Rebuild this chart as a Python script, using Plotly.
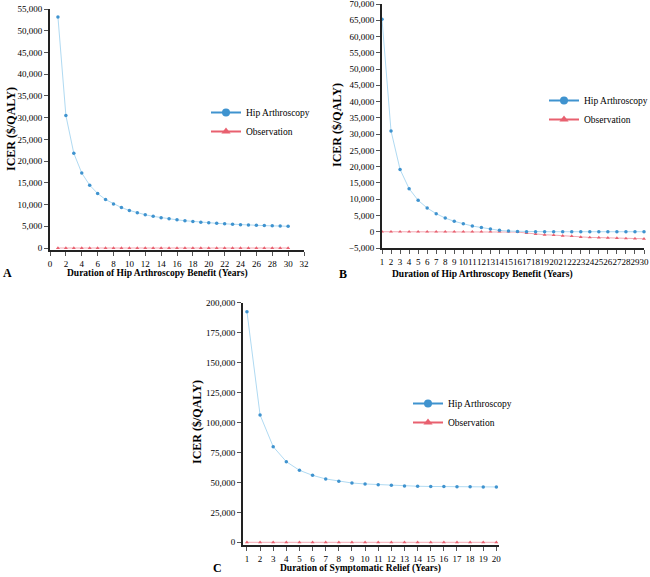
# ICER vs duration of benefit, three panels (A, B, C) with hip arthroscopy vs observation

import plotly.graph_objects as go

# Panel A: duration of hip arthroscopy benefit, 1-30 years
years_a = list(range(1, 31))
hip_a = [53150, 30500, 21800, 17250, 14450, 12550, 11150, 10150, 9300, 8650,
         8100, 7650, 7280, 6980, 6720, 6480, 6280, 6100, 5950, 5800,
         5680, 5560, 5450, 5360, 5280, 5210, 5150, 5100, 5050, 5000]
obs_a = [0] * 30

# Panel B: duration of hip arthroscopy benefit, 1-30 years
years_b = list(range(1, 31))
hip_b = [65300, 31000, 19150, 13250, 9650, 7300, 5550, 4200, 3200, 2450,
         1750, 1300, 820, 420, 200, 100, 20, 0, 0, 0,
         0, 0, 0, 0, 0, 0, 0, 0, 0, 0]
obs_b = [0, 0, 0, 0, 0, 0, 0, 0, 0, 0,
         0, 0, 0, 0, 0, -100, -400, -700, -930, -1030,
         -1240, -1340, -1650, -1750, -1800, -1850, -1960, -2060, -2100, -2160]

# Panel C: duration of symptomatic relief, 1-20 years
years_c = list(range(1, 21))
hip_c = [192500, 106300, 79800, 67300, 60100, 55900, 52900, 50900, 49500, 48700,
         48100, 47600, 47100, 46800, 46600, 46500, 46400, 46300, 46200, 46200]
obs_c = [0] * 20

W, H = 650, 577
FONT = "Liberation Serif"
BLUE_LINE = "#b0daf2"
BLUE_MK = "#3f93cf"
RED_LINE = "#f4aab5"
RED_MK = "#e8606f"


def px_x(p):
    return p / W


def px_y(p):
    return 1 - p / H


fig = go.Figure()

panels = [
    ("", years_a, hip_a, obs_a, "legend"),
    ("2", years_b, hip_b, obs_b, "legend2"),
    ("3", years_c, hip_c, obs_c, "legend3"),
]
for suf, xs, hip, obs, leg in panels:
    fig.add_trace(go.Scatter(x=xs, y=obs, mode="lines+markers", xaxis="x" + suf, yaxis="y" + suf,
                             line=dict(color=RED_LINE, width=1),
                             marker=dict(symbol="triangle-up", size=3.5, color=RED_MK),
                             showlegend=False, cliponaxis=False))
    fig.add_trace(go.Scatter(x=xs, y=hip, mode="lines+markers", xaxis="x" + suf, yaxis="y" + suf,
                             line=dict(color=BLUE_LINE, width=1),
                             marker=dict(symbol="circle", size=3.5, color=BLUE_MK),
                             showlegend=False, cliponaxis=False))
    # legend entries
    fig.add_trace(go.Scatter(x=[None], y=[None], mode="lines+markers", name="Hip Arthroscopy",
                             xaxis="x" + suf, yaxis="y" + suf, legend=leg,
                             line=dict(color=BLUE_MK, width=2),
                             marker=dict(symbol="circle", size=8, color=BLUE_MK)))
    fig.add_trace(go.Scatter(x=[None], y=[None], mode="lines+markers", name="Observation",
                             xaxis="x" + suf, yaxis="y" + suf, legend=leg,
                             line=dict(color=RED_MK, width=2),
                             marker=dict(symbol="triangle-up", size=8, color=RED_MK)))

axis_common = dict(showline=True, linecolor="#222222", linewidth=2, ticks="outside",
                   ticklen=4, tickcolor="#555555", showgrid=False, zeroline=False,
                   automargin=False,
                   tickfont=dict(family=FONT, size=9, color="black"), tickangle=0)

layout = dict(
    width=W, height=H, margin=dict(l=0, r=0, t=0, b=0, autoexpand=False),
    paper_bgcolor="white", plot_bgcolor="white",
    font=dict(family=FONT, color="black"),
    xaxis=dict(domain=[px_x(50), px_x(304)], range=[0, 32], dtick=2, tick0=0,
               anchor="y", **axis_common),
    yaxis=dict(domain=[px_y(250), px_y(9)], range=[-460, 55000], dtick=5000, tick0=0,
               tickformat=",d", anchor="x", **axis_common),
    xaxis2=dict(domain=[px_x(382), px_x(644)], range=[1, 30], dtick=1, tick0=1,
                anchor="y2", **axis_common),
    yaxis2=dict(domain=[px_y(248), px_y(4)], range=[-5000, 70000], dtick=5000, tick0=0,
                tickformat=",d", anchor="x2", **axis_common),
    xaxis3=dict(domain=[px_x(243), px_x(499)], range=[0.7, 20.2], dtick=1, tick0=1,
                anchor="y3", **axis_common),
    yaxis3=dict(domain=[px_y(545), px_y(302.7)], range=[-2250, 200000], dtick=25000, tick0=0,
                tickformat=",d", anchor="x3", **axis_common),
)

leg_common = dict(font=dict(family=FONT, size=9.5, color="black"), bgcolor="rgba(0,0,0,0)",
                  xanchor="left", yanchor="top", itemwidth=30, tracegroupgap=0)
layout["legend"] = dict(x=px_x(206), y=px_y(98), **leg_common)
layout["legend2"] = dict(x=px_x(544), y=px_y(86), **leg_common)
layout["legend3"] = dict(x=px_x(408), y=px_y(389), **leg_common)

fig.update_layout(**layout)

# axis titles and panel letters
title_font = dict(family=FONT, size=9.5, color="black")
ytitle_font = dict(family=FONT, size=12, color="black")
letter_font = dict(family=FONT, size=12, color="black")
notes = [
    ("<b>Duration of Hip Arthroscopy Benefit (Years)</b>", 157, 273, 0, title_font),
    ("<b>Duration of Hip Arthroscopy Benefit (Years)</b>", 482, 274, 0, title_font),
    ("<b>Duration of Symptomatic Relief (Years)</b>", 360, 568, 0, title_font),
    ("<b>ICER ($/QALY)</b>", 11, 129, -90, ytitle_font),
    ("<b>ICER ($/QALY)</b>", 337, 125, -90, ytitle_font),
    ("<b>ICER ($/QALY)</b>", 197, 422, -90, ytitle_font),
    ("<b>A</b>", 7, 273, 0, letter_font),
    ("<b>B</b>", 343, 274, 0, letter_font),
    ("<b>C</b>", 217, 568, 0, letter_font),
]
for text, x, y, ang, f in notes:
    fig.add_annotation(text=text, x=px_x(x), y=px_y(y), xref="paper", yref="paper",
                       xanchor="center", yanchor="middle", textangle=ang,
                       showarrow=False, font=f)

fig.write_html("out.html", config={"displayModeBar": False},
               post_script="document.body.style.margin = '0';")
